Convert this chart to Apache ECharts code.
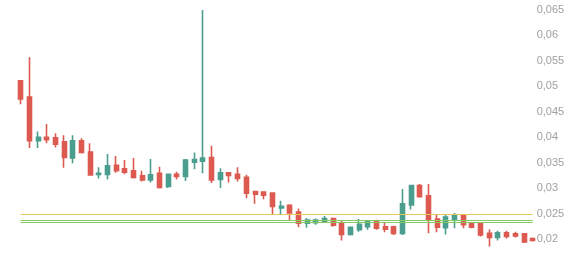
<!DOCTYPE html>
<html>
<head>
<meta charset="utf-8">
<script src="https://cdn.jsdelivr.net/npm/echarts@6/dist/echarts.min.js"></script>
<style>html,body{margin:0;padding:0;background:#fff;}#c{width:584px;height:258px;}</style>
</head>
<body>
<div id="c"></div>
<script>
// Candle values: open, close, low, high
const opens  = [0.0511,0.0479,0.0393,0.0400,0.0399,0.0391,0.0359,0.0393,0.0371,0.0327,
                0.0327,0.0345,0.0338,0.0334,0.0324,0.0316,0.0329,0.0303,0.0327,0.0323,
                0.0351,0.0353,0.0360,0.0317,0.0330,0.0327,0.0321,0.0293,0.0292,0.0290,
                0.0261,0.0266,0.0253,0.0231,0.0232,0.0233,0.0240,0.0232,0.0209,0.0218,
                0.0224,0.0234,0.0224,0.0224,0.0211,0.0267,0.0305,0.0285,0.0239,0.0222,
                0.0239,0.0246,0.0230,0.0231,0.0211,0.0203,0.0212,0.0210,0.0210,0.0201];
const closes = [0.0475,0.0393,0.0400,0.0395,0.0386,0.0360,0.0393,0.0370,0.0326,0.0329,
                0.0344,0.0334,0.0331,0.0321,0.0316,0.0326,0.0301,0.0327,0.0323,0.0355,
                0.0356,0.0359,0.0316,0.0330,0.0325,0.0319,0.0290,0.0288,0.0286,0.0264,
                0.0264,0.0251,0.0231,0.0237,0.0237,0.0240,0.0227,0.0209,0.0223,0.0229,
                0.0235,0.0221,0.0219,0.0211,0.0269,0.0305,0.0283,0.0237,0.0223,0.0243,
                0.0247,0.0228,0.0223,0.0208,0.0203,0.0212,0.0205,0.0206,0.0194,0.0197];
const lows   = [0.0465,0.0379,0.0379,0.0388,0.0380,0.0340,0.0349,0.0368,0.0324,0.0319,
                0.0317,0.0330,0.0327,0.0319,0.0313,0.0311,0.0299,0.0300,0.0317,0.0314,
                0.0337,0.0329,0.0310,0.0300,0.0311,0.0313,0.0280,0.0269,0.0278,0.0249,
                0.0249,0.0237,0.0223,0.0222,0.0228,0.0232,0.0224,0.0197,0.0207,0.0214,
                0.0218,0.0218,0.0213,0.0208,0.0208,0.0258,0.0282,0.0211,0.0213,0.0209,
                0.0221,0.0221,0.0221,0.0205,0.0185,0.0197,0.0201,0.0203,0.0192,0.0195];
const highs  = [0.0512,0.0557,0.0411,0.0426,0.0408,0.0404,0.0404,0.0398,0.0388,0.0341,
                0.0367,0.0363,0.0355,0.0359,0.0334,0.0357,0.0342,0.0328,0.0332,0.0357,
                0.0370,0.0650,0.0383,0.0339,0.0331,0.0341,0.0326,0.0293,0.0294,0.0291,
                0.0275,0.0268,0.0260,0.0241,0.0240,0.0245,0.0242,0.0237,0.0224,0.0239,
                0.0237,0.0238,0.0232,0.0226,0.0298,0.0306,0.0308,0.0308,0.0249,0.0247,
                0.0251,0.0249,0.0232,0.0233,0.0219,0.0216,0.0216,0.0214,0.0211,0.0203];
const categories = opens.map((_, i) => String(i + 1));
const levelYellow = [0.0249];
const levelsGreen = [0.02375, 0.0233];
const yTicks = { min: 0.015, max: 0.065, interval: 0.005 };

const candleData = opens.map((o, i) => [o, closes[i], lows[i], highs[i]]);
const lineData = [
  ...levelYellow.map(v => ({ yAxis: v, lineStyle: { color: '#e6c85a' } })),
  ...levelsGreen.map(v => ({ yAxis: v, lineStyle: { color: '#86cc60' } }))
];

const chart = echarts.init(document.getElementById('c'), null, { renderer: 'canvas' });
chart.setOption({
  animation: false,
  backgroundColor: '#ffffff',
  grid: { left: 20.7, top: 10, width: 512, height: 254.4, containLabel: false, outerBoundsMode: 'none' },
  xAxis: {
    type: 'category', data: categories, boundaryGap: false,
    axisLine: { show: false }, axisTick: { show: false }, axisLabel: { show: false }, splitLine: { show: false }
  },
  yAxis: {
    type: 'value', position: 'right',
    min: yTicks.min, max: yTicks.max, interval: yTicks.interval,
    axisLine: { show: false }, axisTick: { show: false }, splitLine: { show: false },
    axisLabel: {
      margin: 4, color: '#a0a0a0', fontSize: 11, fontFamily: 'Liberation Sans, Arial, sans-serif',
      formatter: v => (v < 0.0175 ? '' : String(Number(v.toFixed(4))).replace('.', ','))
    }
  },
  series: [{
    type: 'candlestick',
    data: candleData,
    clip: false,
    barWidth: 4.5,
    itemStyle: {
      color: '#4b9e8e', color0: '#dc5a50',
      borderColor: '#4b9e8e', borderColor0: '#dc5a50', borderWidth: 1.6
    },
    markLine: {
      silent: true, symbol: 'none', label: { show: false }, precision: 6,
      lineStyle: { type: 'solid', width: 1 },
      data: lineData
    }
  }]
});
</script>
</body>
</html>
